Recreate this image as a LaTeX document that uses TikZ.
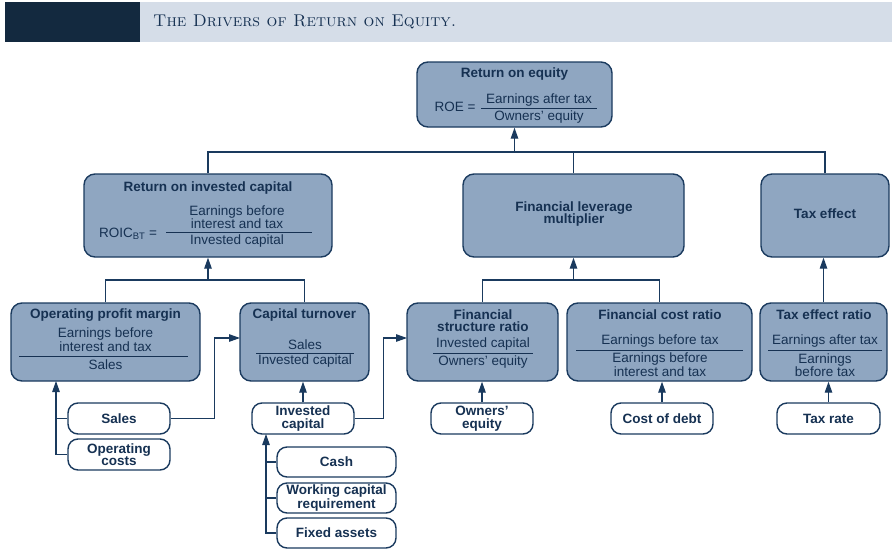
\documentclass[tikz,border=0pt]{standalone}
\usepackage{fontspec}
\setsansfont{Liberation Sans}
\usetikzlibrary{arrows.meta}
\definecolor{boxc}{HTML}{8FA6C1}
\definecolor{bordc}{HTML}{1A3A5E}
\definecolor{txtc}{HTML}{163152}
\definecolor{hdark}{HTML}{13293F}
\definecolor{hlight}{HTML}{D5DDE8}
\tikzset{
  bluebox/.style={draw=bordc, fill=boxc, line width=1.4pt, rounded corners=11pt, inner sep=0pt},
  whitebox/.style={draw=bordc, fill=white, line width=1.4pt, rounded corners=10pt, inner sep=0pt,
    text=txtc, font=\sffamily\bfseries\fontsize{13.5}{12.5}\selectfont, align=center},
  ttl/.style={text=txtc, font=\sffamily\bfseries\fontsize{13.5}{13}\selectfont, align=center, inner sep=0pt},
  txt/.style={text=txtc, font=\sffamily\fontsize{13.5}{12.5}\selectfont, align=center, inner sep=0pt},
  fracline/.style={draw=txtc, line width=1pt},
  conn/.style={draw=bordc, line width=1.2pt},
  arr/.style={conn, -{Triangle[length=11pt,width=7.5pt]}},
}
\begin{document}
\begin{tikzpicture}[x=1pt,y=-1pt]
\useasboundingbox (0,0) rectangle (892,552);
% header
\fill[hlight] (140,2) rectangle (892,42);
\fill[hdark] (5,2) rectangle (140,42);
\node[anchor=west, text=txtc, inner sep=0pt, font=\fontsize{17}{18}\selectfont] (title) at (153,22) {\textsc{The Drivers of Return on Equity.}};

% blue boxes
\node[bluebox, minimum width=195pt, minimum height=65pt] (roe) at (514.5,94.5) {};
\node[bluebox, minimum width=248pt, minimum height=83pt] (roic) at (208,215.5) {};
\node[bluebox, minimum width=221pt, minimum height=83pt] (fl) at (573.5,215.5) {};
\node[bluebox, minimum width=128pt, minimum height=83pt] (tax) at (825,215.5) {};
\node[bluebox, minimum width=189pt, minimum height=78pt] (opm) at (105.5,342) {};
\node[bluebox, minimum width=129pt, minimum height=78pt] (ct) at (304.5,342) {};
\node[bluebox, minimum width=151pt, minimum height=78pt] (fsr) at (482.5,342) {};
\node[bluebox, minimum width=185pt, minimum height=78pt] (fcr) at (659.5,342) {};
\node[bluebox, minimum width=127pt, minimum height=78pt] (ter) at (823.5,342) {};

% ROE content
\node[ttl] (roeT) at (514.5,74) {Return on equity};
\node[txt] (roeEq) at (455,107) {ROE =};
\node[txt] (roeN) at (539,100) {Earnings after tax};
\draw[fracline] (481,108.5) -- (597,108.5);
\node[txt] (roeD) at (539,117) {Owners' equity};

% ROIC content
\node[ttl] (roicT) at (208,188) {Return on invested capital};
\node[txt] (roicEq) at (128,234) {ROIC\textsubscript{BT} =};
\node[txt] (roicN) at (237,217) {Earnings before\\interest and tax};
\draw[fracline] (166,232.5) -- (312,232.5);
\node[txt] (roicD) at (237,241) {Invested capital};

% FL & Tax
\node[ttl] (flT) at (574,214) {Financial leverage\\[-1pt]multiplier};
\node[ttl] (taxT) at (825,214) {Tax effect};

% OPM
\node[ttl] (opmT) at (105.5,315) {Operating profit margin};
\node[txt] (opmN) at (105.5,339.5) {Earnings before\\interest and tax};
\draw[fracline] (19,356) -- (188,356);
\node[txt] (opmD) at (105.5,365) {Sales};

% CT
\node[ttl] (ctT) at (304.5,315) {Capital turnover};
\node[txt] (ctN) at (305,344.5) {Sales};
\draw[fracline] (256,353) -- (354,353);
\node[txt] (ctD) at (305,361.5) {Invested capital};

% FSR
\node[ttl] (fsrT) at (483,321) {Financial\\[-1pt]structure ratio};
\node[txt] (fsrN) at (483,344) {Invested capital};
\draw[fracline] (433,353) -- (533,353);
\node[txt] (fsrD) at (483,362) {Owners' equity};

% FCR
\node[ttl] (fcrT) at (660,315) {Financial cost ratio};
\node[txt] (fcrN) at (660,341.5) {Earnings before tax};
\draw[fracline] (576,350) -- (743,350);
\node[txt] (fcrD) at (660,364.5) {Earnings before\\interest and tax};

% TER
\node[ttl] (terT) at (824,315) {Tax effect ratio};
\node[txt] (terN) at (825,341.5) {Earnings after tax};
\draw[fracline] (768,350) -- (882,350);
\node[txt] (terD) at (825,365) {Earnings\\before tax};

% white boxes
\node[whitebox, minimum width=102pt, minimum height=31pt] (sales) at (119,418.5) {Sales};
\node[whitebox, minimum width=102pt, minimum height=31pt] (oc) at (119,454.5) {Operating\\costs};
\node[whitebox, minimum width=102pt, minimum height=31pt] (ic) at (303,418.5) {Invested\\capital};
\node[whitebox, minimum width=119pt, minimum height=30pt] (cash) at (336.5,462) {Cash};
\node[whitebox, minimum width=119pt, minimum height=30pt] (wcr) at (336.5,498) {Working capital\\requirement};
\node[whitebox, minimum width=119pt, minimum height=30pt] (fa) at (336.5,533) {Fixed assets};
\node[whitebox, minimum width=102pt, minimum height=31pt] (oe) at (482,418.5) {Owners'\\equity};
\node[whitebox, minimum width=102pt, minimum height=31pt] (cod) at (662,418.5) {Cost of debt};
\node[whitebox, minimum width=103pt, minimum height=31pt] (tr) at (828.5,418.5) {Tax rate};

% connectors: top level
\coordinate (j1) at (514.5,152);
\draw[conn] (roic.north) |- (j1);
\draw[conn] (tax.north) |- (j1);
\draw[conn] (fl.north) -- (fl.north |- j1);
\draw[arr] (j1) -- (roe.south);

% ROIC branch
\coordinate (j2) at (208,280);
\draw[conn] (opm.north) |- (j2);
\draw[conn] (ct.north) |- (j2);
\draw[arr] (j2) -- (roic.south);

% FL branch
\coordinate (j3) at (573.5,280);
\draw[conn] (fsr.north) |- (j3);
\draw[conn] (fcr.north) |- (j3);
\draw[arr] (j3) -- (fl.south);

% tax
\draw[arr] (ter.north) -- (ter.north |- tax.south);

% OPM inputs
\coordinate (opmin) at (56,381);
\draw[arr] (oc.west) -| (opmin);
\draw[conn] (sales.west) -- (sales.west -| opmin);

% Sales -> CT
\coordinate (ctin) at (240,338);
\draw[arr] (sales.east) -- ([xshift=44pt]sales.east) |- (ctin);

% IC -> CT, IC -> FSR
\draw[arr] (ic.north) -- (ic.north |- ct.south);
\coordinate (fsrin) at (407,338);
\draw[arr] (ic.east) -- ([xshift=29pt]ic.east) |- (fsrin);

% IC inputs
\coordinate (icin) at (266,434);
\draw[arr] (fa.west) -| (icin);
\draw[conn] (cash.west) -- (cash.west -| icin);
\draw[conn] (wcr.west) -- (wcr.west -| icin);

% others
\draw[arr] (oe.north) -- (oe.north |- fsr.south);
\draw[arr] (cod.north) -- (cod.north |- fcr.south);
\draw[arr] (tr.north) -- (tr.north |- ter.south);
\end{tikzpicture}
\end{document}
